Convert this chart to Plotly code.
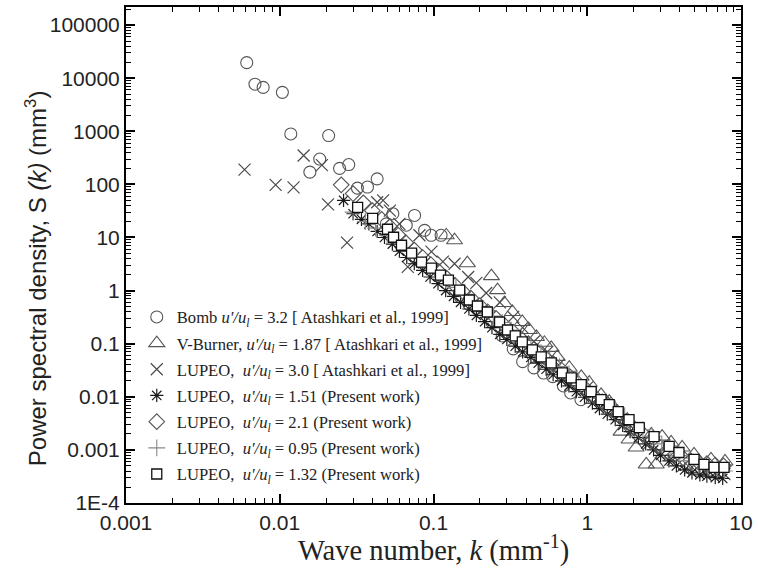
import plotly.graph_objects as go

# ---------------- data ----------------
bomb_k = [0.0061, 0.0069, 0.0078, 0.0104, 0.0118, 0.0157, 0.0182, 0.0208, 0.0245, 0.0281,
          0.032, 0.0372, 0.043, 0.0493, 0.0544, 0.0665, 0.0753, 0.0875, 0.0966, 0.112,
          0.15, 0.17, 0.199, 0.24, 0.28, 0.33, 0.38, 0.45, 0.52, 0.596, 0.70, 0.78, 0.91]
bomb_s = [19600, 7700, 6700, 5400, 890, 170, 300, 830, 200, 236,
          85, 89, 127, 18, 28, 17, 26, 13.6, 11, 11,
          0.75, 0.55, 0.40, 0.25, 0.14, 0.08, 0.046, 0.035, 0.028, 0.024, 0.016, 0.0118, 0.0088]

vb_k = [0.121, 0.137, 0.166, 0.238, 0.261, 0.289, 0.326, 0.378, 0.420, 0.467, 0.526, 0.583,
        0.638, 0.764, 0.914, 1.03, 1.23, 1.39, 1.57, 1.82, 1.66, 1.87, 2.08, 2.42, 2.81,
        2.61, 3.07, 3.51, 4.14, 4.95, 6.38, 7.87]
vb_s = [11.0, 8.86, 3.28, 1.87, 1.02, 0.582, 0.395, 0.256, 0.181, 0.134, 0.104, 0.0834,
        0.0565, 0.0352, 0.0238, 0.0184, 0.0109, 0.00809, 0.00525, 0.00372, 0.00221, 0.00157,
        0.00111, 0.000532, 0.000532, 0.00195, 0.00178, 0.00138, 0.00111, 0.00082, 0.00066, 0.000605]

lu30_k = [0.0059, 0.0094, 0.0123, 0.0143, 0.0188, 0.0206, 0.0274, 0.043, 0.047, 0.052, 0.060,
          0.068, 0.081, 0.097, 0.115, 0.137, 0.168, 0.19, 0.22, 0.27, 0.33, 0.38, 0.45, 0.55,
          0.65, 0.80, 1.0, 1.3, 1.6, 2.0, 2.5, 3.0, 3.6, 4.2, 5.0, 5.8, 6.8, 7.8]
lu30_s = [190, 98, 88, 350, 230, 42, 8, 46, 50, 32, 18,
          2.8, 11, 5.4, 3.5, 3.2, 1.8, 1.4, 0.9, 0.6, 0.32, 0.2, 0.11, 0.07,
          0.04, 0.022, 0.015, 0.0075, 0.0045, 0.0025, 0.0013, 0.0009, 0.00065, 0.0005,
          0.00042, 0.00038, 0.00037, 0.00035]

lu151_k = [0.026, 0.030, 0.034, 0.038, 0.043, 0.048, 0.054, 0.060, 0.067, 0.075, 0.085, 0.095,
           0.107, 0.12, 0.135, 0.15, 0.17, 0.19, 0.215, 0.24, 0.27, 0.30, 0.34, 0.38, 0.43,
           0.48, 0.54, 0.60, 0.68, 0.76, 0.85, 0.96, 1.08, 1.2, 1.35, 1.52, 1.7, 1.9, 2.15,
           2.4, 2.7, 3.0, 3.4, 3.8, 4.3, 4.8, 5.4, 6.0, 6.8, 7.6]
lu151_s = [50, 28, 22, 18, 13, 10, 7.5, 5.5, 4.2, 3.2, 2.4, 1.8,
           1.35, 1.0, 0.78, 0.6, 0.45, 0.34, 0.26, 0.2, 0.15, 0.12, 0.09, 0.07, 0.055,
           0.043, 0.033, 0.026, 0.02, 0.016, 0.0125, 0.0098, 0.0076, 0.006, 0.0047, 0.0037,
           0.0029, 0.0022, 0.0017, 0.0013, 0.001, 0.00079, 0.00062, 0.0005, 0.00042, 0.00037,
           0.00034, 0.00032, 0.0003, 0.00029]

lu21_k = [0.0251, 0.030, 0.035, 0.040, 0.046, 0.052, 0.059, 0.066, 0.075, 0.085, 0.096, 0.108,
          0.122, 0.138, 0.155, 0.175, 0.20, 0.225, 0.255, 0.29, 0.33, 0.37, 0.42, 0.47, 0.53,
          0.60, 0.68, 0.77, 0.87, 0.98, 1.1, 1.25, 1.4, 1.6, 1.8, 2.0, 2.3, 2.6, 2.9, 3.3,
          3.7, 4.2, 4.7, 5.3, 6.0, 6.8, 7.7]
lu21_s = [98, 67, 45, 32, 22, 16, 11, 8, 5.8, 4.2, 3.1, 2.3,
          1.7, 1.25, 0.95, 0.72, 0.52, 0.4, 0.3, 0.22, 0.165, 0.125, 0.095, 0.072, 0.055,
          0.042, 0.032, 0.024, 0.018, 0.014, 0.0105, 0.008, 0.006, 0.0045, 0.0034, 0.0026,
          0.002, 0.0015, 0.0012, 0.00095, 0.0008, 0.0007, 0.00063, 0.00058, 0.00055, 0.00052, 0.0005]

lu095_k = [0.030, 0.036, 0.042, 0.050, 0.058, 0.067, 0.078, 0.090, 0.104, 0.12, 0.14, 0.16,
           0.185, 0.21, 0.245, 0.28, 0.32, 0.37, 0.43, 0.50, 0.57, 0.66, 0.76, 0.88, 1.0,
           1.15, 1.32, 1.52, 1.75, 2.0, 2.3, 2.65, 3.05, 3.5, 4.0, 4.6, 5.3, 6.1, 7.0, 7.8]
lu095_s = [30, 20, 15, 11, 8, 5.8, 4.2, 3.0, 2.2, 1.6, 1.15, 0.85,
           0.62, 0.46, 0.33, 0.25, 0.18, 0.13, 0.095, 0.068, 0.05, 0.037, 0.027, 0.02, 0.015,
           0.011, 0.0082, 0.006, 0.0044, 0.0033, 0.0024, 0.0018, 0.0013, 0.001, 0.00078,
           0.00062, 0.00052, 0.00046, 0.00042, 0.0004]

lu132_k = [0.0321, 0.0402, 0.0502, 0.055, 0.0619, 0.072, 0.0836, 0.097, 0.111, 0.125, 0.148,
           0.171, 0.193, 0.224, 0.269, 0.303, 0.340, 0.378, 0.440, 0.502, 0.583, 0.689, 0.787,
           0.914, 1.06, 1.23, 1.39, 1.59, 1.87, 2.18, 2.72, 3.41, 3.95, 4.95, 5.75, 6.68, 7.76]
lu132_s = [36.9, 22.9, 14.3, 10.1, 7.14, 5.06, 3.43, 2.64, 1.95, 1.57, 1.02,
           0.664, 0.512, 0.395, 0.256, 0.181, 0.140, 0.108, 0.0766, 0.0565, 0.0437, 0.0283,
           0.0228, 0.0169, 0.0125, 0.00883, 0.00711, 0.00525, 0.00372, 0.00263, 0.00178,
           0.00116, 0.000893, 0.000661, 0.000532, 0.000468, 0.000468]

names = [
    "Bomb <i>u'/u</i><sub><i>l</i></sub> = 3.2 [ Atashkari et al., 1999]",
    "V-Burner, <i>u'/u</i><sub><i>l</i></sub> = 1.87 [ Atashkari et al., 1999]",
    "LUPEO,  <i>u'/u</i><sub><i>l</i></sub> = 3.0 [ Atashkari et al., 1999]",
    "LUPEO,  <i>u'/u</i><sub><i>l</i></sub> = 1.51 (Present work)",
    "LUPEO,  <i>u'/u</i><sub><i>l</i></sub> = 2.1 (Present work)",
    "LUPEO,  <i>u'/u</i><sub><i>l</i></sub> = 0.95 (Present work)",
    "LUPEO,  <i>u'/u</i><sub><i>l</i></sub> = 1.32 (Present work)",
]

y_tickvals = [1e-4, 1e-3, 1e-2, 1e-1, 1, 10, 100, 1000, 10000, 100000]
y_ticktext = ["1E-4", "0.001", "0.01", "0.1", "1", "10", "100", "1000", "10000", "100000"]
x_tickvals = [0.001, 0.01, 0.1, 1, 10]
x_ticktext = ["0.001", "0.01", "0.1", "1", "10"]

# ---------------- figure ----------------
series = [
    (bomb_k, bomb_s, "circle-open", 12, "#555555", 1.1, None),
    (vb_k, vb_s, "triangle-up-open", 14, "#555555", 1.1, None),
    (lu30_k, lu30_s, "x-thin-open", 12, "#4a4a4a", 1.2, None),
    (lu151_k, lu151_s, "asterisk-open", 11, "#1a1a1a", 1.2, None),
    (lu21_k, lu21_s, "diamond-open", 12, "#555555", 1.1, None),
    (lu095_k, lu095_s, "cross-thin-open", 12, "#888888", 1.1, None),
    (lu132_k, lu132_s, "square", 10, "#111111", 1.3, "white"),
]

fig = go.Figure()
for i, (kx, sy, sym, sz, col, lw, fill) in enumerate(series):
    fig.add_trace(go.Scatter(
        x=kx, y=sy, mode="markers", name=names[i], legendgroup=f"g{i}",
        marker=dict(symbol=sym, size=sz, color=fill if fill else col,
                    line=dict(color=col, width=lw)),
    ))

axis_common = dict(
    type="log", showgrid=False, zeroline=False,
    showline=True, linecolor="black", linewidth=2, mirror="allticks",
    ticks="inside", ticklen=9, tickwidth=1.5, tickcolor="black",
    tickfont=dict(family="Liberation Sans, Arial", size=21, color="#222"),
    minor=dict(ticks="inside", ticklen=5, tickwidth=1, tickcolor="black", dtick="D1"),
)

fig.update_xaxes(**axis_common, range=[-3, 1], tickvals=x_tickvals, ticktext=x_ticktext)
fig.update_yaxes(**axis_common, range=[-4, 5.34], tickvals=y_tickvals, ticktext=y_ticktext)

fig.add_annotation(
    text="Wave number, <i>k</i> (mm<sup>-1</sup>)", xref="paper", yref="paper",
    x=0.5, y=-46 / 498, xanchor="center", yanchor="middle", showarrow=False,
    font=dict(family="Liberation Serif, Times New Roman", size=28.5, color="#222"))
fig.add_annotation(
    text="Power spectral density, S <i>(k)</i> (mm<sup>3</sup>)", xref="paper", yref="paper",
    x=-90 / 617, y=0.5 - 23 / 498, xanchor="center", yanchor="middle", showarrow=False,
    textangle=-90,
    font=dict(family="Liberation Sans, Arial", size=24, color="#222"))

fig.update_layout(
    width=758, height=579,
    margin=dict(l=126, r=15, t=5, b=76),
    paper_bgcolor="white", plot_bgcolor="white",
    showlegend=True,
    legend=dict(x=0.0175, y=0.41, xanchor="left", yanchor="top",
                bgcolor="rgba(0,0,0,0)", borderwidth=0,
                traceorder="grouped", tracegroupgap=1.6,
                font=dict(family="Liberation Serif, Times New Roman", size=16.6, color="#222")),
)

fig.write_html("out.html")
